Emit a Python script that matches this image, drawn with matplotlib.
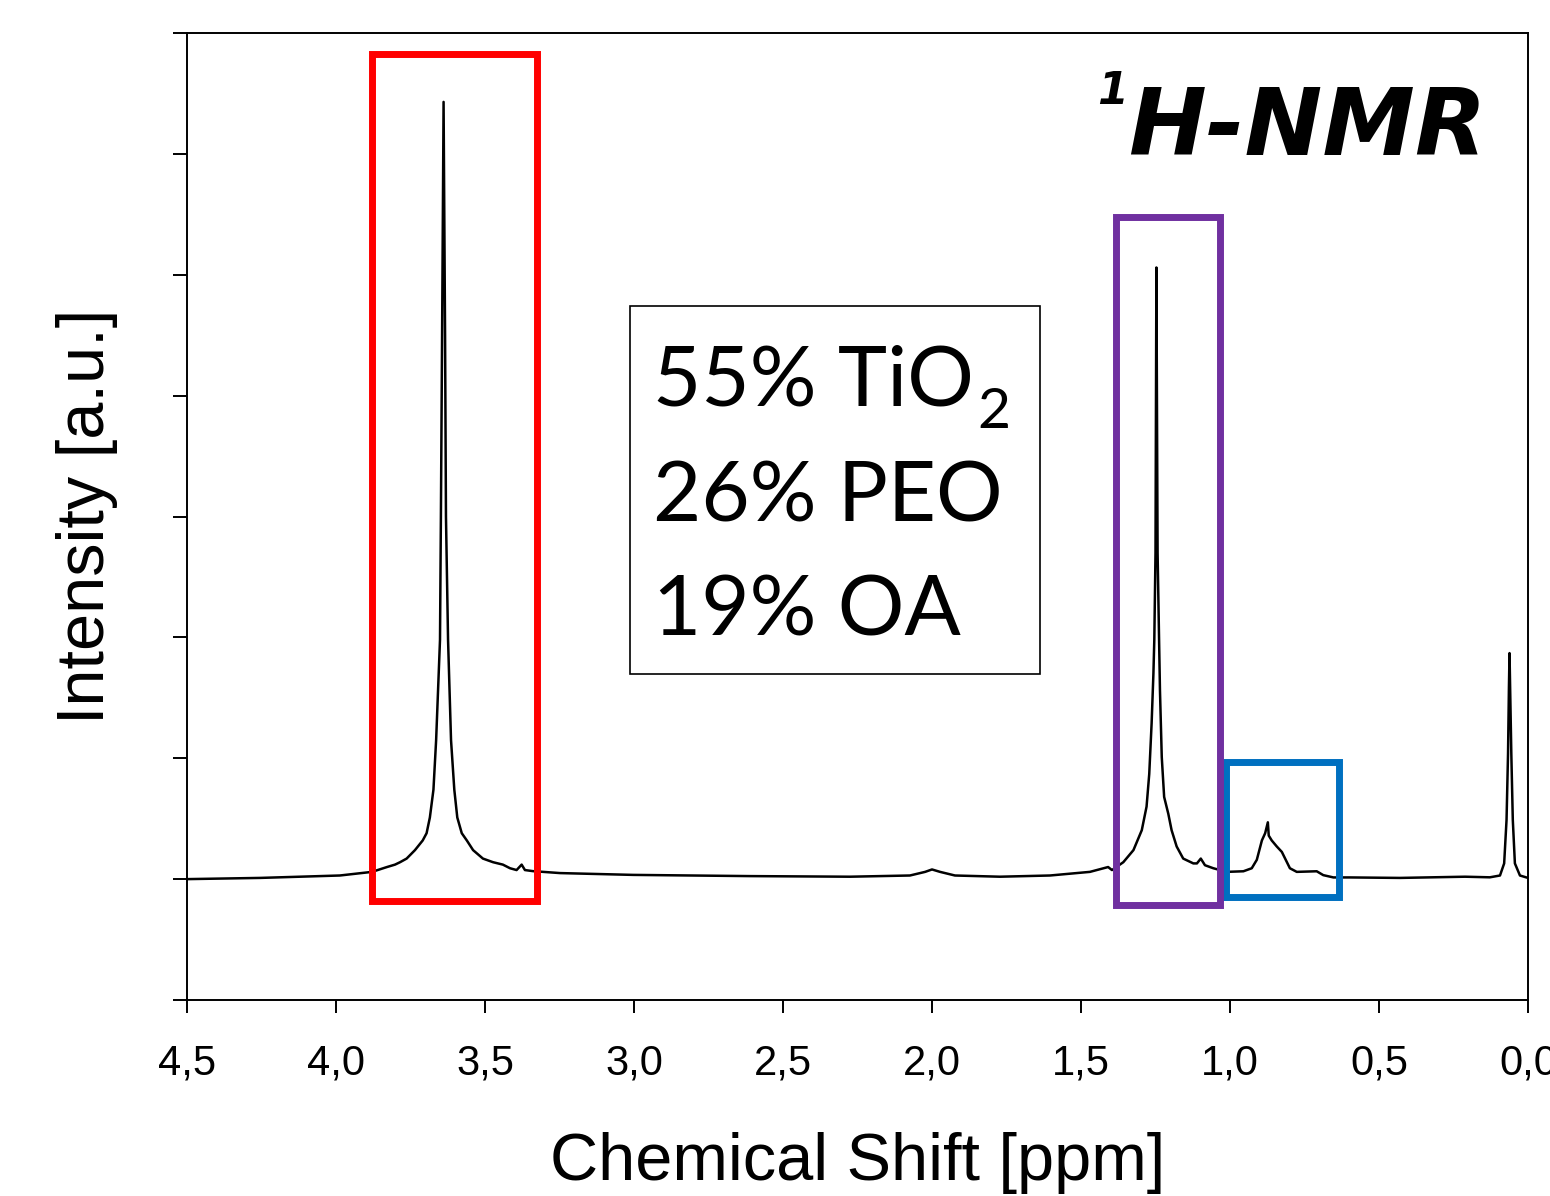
import matplotlib
matplotlib.use("Agg")
import matplotlib.pyplot as plt
from matplotlib.patches import Rectangle
import numpy as np

# ---------------- data ----------------
shift_ppm = [
    4.500, 4.255, 4.121, 3.987, 3.879, 3.829, 3.802, 3.785, 3.763, 3.735,
    3.709, 3.696, 3.685, 3.673, 3.664, 3.651, 3.648, 3.644, 3.639, 3.634,
    3.631, 3.624, 3.614, 3.603, 3.593, 3.578, 3.561, 3.540, 3.507, 3.473,
    3.440, 3.416, 3.394, 3.377, 3.366, 3.339,
    3.248, 3.003, 2.611, 2.275, 2.074, 2.023, 2.000, 1.973, 1.923, 1.772,
    1.604, 1.470, 1.409, 1.396, 1.358, 1.324, 1.296, 1.280, 1.271, 1.263,
    1.257, 1.254, 1.250, 1.247, 1.243, 1.238, 1.235, 1.229, 1.221, 1.207,
    1.196, 1.179, 1.157, 1.123, 1.111, 1.098, 1.084, 1.056, 1.011,
    0.955, 0.927, 0.910, 0.893, 0.882, 0.873, 0.870, 0.860, 0.843, 0.826,
    0.815, 0.799, 0.776, 0.709, 0.687, 0.653, 0.597, 0.430, 0.211, 0.128,
    0.094, 0.080, 0.072, 0.067, 0.064, 0.062, 0.060, 0.056, 0.051, 0.044,
    0.027, 0.000,
]
intensity = [
    0.00, 0.01, 0.02, 0.03, 0.06, 0.10, 0.12, 0.14, 0.17, 0.24,
    0.32, 0.38, 0.51, 0.74, 1.15, 1.98, 3.00, 4.50, 6.43, 4.50,
    3.00, 1.98, 1.15, 0.74, 0.51, 0.38, 0.32, 0.24, 0.17, 0.14,
    0.12, 0.09, 0.075, 0.12, 0.075, 0.066,
    0.05, 0.035, 0.025, 0.02, 0.03, 0.06, 0.08, 0.06, 0.03, 0.02,
    0.03, 0.06, 0.10, 0.075, 0.14, 0.24, 0.405, 0.60, 0.87, 1.29,
    1.70, 1.98, 2.70, 5.06, 2.70, 1.98, 1.56, 1.01, 0.68, 0.54,
    0.405, 0.27, 0.17, 0.13, 0.13, 0.17, 0.115, 0.09, 0.06,
    0.065, 0.09, 0.16, 0.32, 0.38, 0.47, 0.36, 0.32, 0.27, 0.225,
    0.17, 0.09, 0.06, 0.065, 0.033, 0.014, 0.014, 0.01, 0.02, 0.015,
    0.03, 0.13, 0.49, 1.04, 1.59, 1.87, 1.59, 1.04, 0.49, 0.13,
    0.03, 0.01,
]
x_ticks = [4.5, 4.0, 3.5, 3.0, 2.5, 2.0, 1.5, 1.0, 0.5, 0.0]
x_tick_labels = ["4,5", "4,0", "3,5", "3,0", "2,5", "2,0", "1,5", "1,0", "0,5", "0,0"]
y_ticks = [-1, 0, 1, 2, 3, 4, 5, 6, 7]
composition_main = ["55% TiO", "26% PEO", "19% OA"]
composition_sub = ["2", "", ""]

# highlight boxes: (x_left, x_right, y_bottom, y_top)
red_box = (3.879, 3.326, -0.177, 6.830)
purple_box = (1.3815, 1.0336, -0.210, 5.474)
blue_box = (1.0134, 0.634, -0.144, 0.969)

# ---------------- figure ----------------
W, H = 1550, 1196
plt.rcParams['font.family'] = ['Liberation Sans', 'DejaVu Sans']

fig = plt.figure(figsize=(W / 100, H / 100), dpi=100)
ax = fig.add_axes([187 / W, 1 - 1000 / H, (1528 - 187) / W, (1000 - 33) / H])

ax.plot(shift_ppm, intensity, color='black', lw=1.8, zorder=3,
        solid_joinstyle='round')
ax.set_xlim(4.5, 0.0)
ax.set_ylim(-1, 7)

ax.set_xticks(x_ticks)
ax.set_xticklabels(x_tick_labels, fontsize=30)
ax.set_yticks(y_ticks)
ax.set_yticklabels([])
ax.tick_params(axis='x', direction='out', length=9, width=1.4, pad=22)
ax.tick_params(axis='y', direction='out', length=10, width=1.4)
for s in ax.spines.values():
    s.set_linewidth(1.4)

ax.set_xlabel("Chemical Shift [ppm]", fontsize=48)
ax.set_ylabel("Intensity [a.u.]", fontsize=48)
ax.xaxis.set_label_coords(0.5, -0.137)
ax.yaxis.set_label_coords(-0.0515, 0.5)

def add_box(b, color, z):
    x0, x1, y0, y1 = b
    ax.add_patch(Rectangle((x1, y0), x0 - x1, y1 - y0, fill=False,
                           edgecolor=color, lw=5, zorder=z, clip_on=False,
                           joinstyle='miter'))

add_box(red_box, '#FF0000', 4)
add_box(blue_box, '#0070C0', 4)
add_box(purple_box, '#7030A0', 5)

# composition text box
fig.patches.append(Rectangle((629.5 / W, 1 - 673.5 / H), (1039.5 - 629.5) / W,
                             (673.5 - 305.5) / H, transform=fig.transFigure,
                             fill=False, edgecolor='black', lw=1.2, zorder=6))
baselines = [405, 522, 635]
renderer = fig.canvas.get_renderer()
for main, sub, yb in zip(composition_main, composition_sub, baselines):
    t = fig.text(653 / W, 1 - yb / H, main, fontsize=60,
                 family=['Lato', 'DejaVu Sans'], ha='left', va='baseline')
    if sub:
        bb = t.get_window_extent(renderer=renderer)
        fig.text((bb.x1 + 3) / W, 1 - (yb + 23) / H, sub, fontsize=41,
                 family=['Lato', 'DejaVu Sans'], ha='left', va='baseline')

# 1H-NMR label
fig.text(1097 / W, 1 - 104 / H, "1", fontsize=32, family=['DejaVu Sans'],
         weight='bold', style='italic', ha='left', va='baseline')
fig.text(1128 / W, 1 - 155 / H, "H-NMR", fontsize=67, family=['DejaVu Sans'],
         weight='bold', style='italic', ha='left', va='baseline')

fig.savefig("out.png", dpi=100)
